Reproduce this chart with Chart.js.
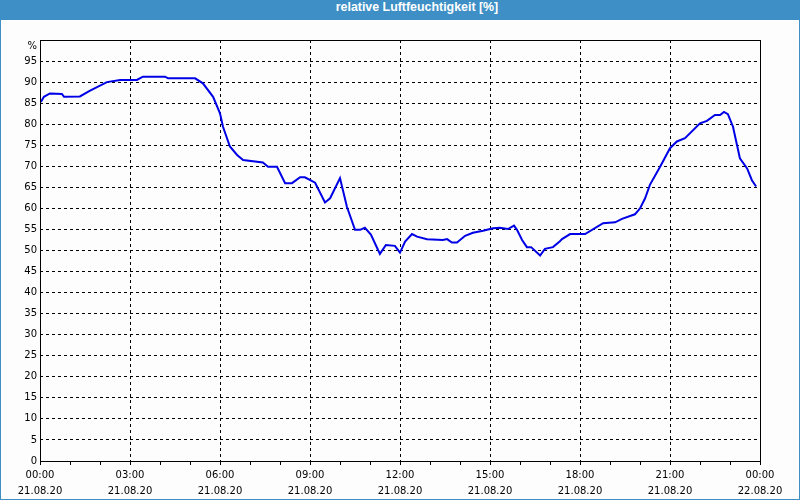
<!DOCTYPE html>
<html>
<head>
<meta charset="utf-8">
<script src="https://cdn.jsdelivr.net/npm/chart.js@4/dist/chart.umd.min.js"></script>
<style>
    body { margin: 0; }
    #frame { position: relative; width: 800px; height: 500px; background: #3d8fc6; }
    #title { position: absolute; left: 34px; top: 0; width: 766px; height: 20px; line-height: 20px;
             text-align: center; color: #fff; font: bold 12.4px "Liberation Sans", sans-serif; }
    #plot { position: absolute; left: 1px; top: 20px; width: 798px; height: 479px; background: #fcfdfc; }
</style>
</head>
<body>
<div id="frame">
    <div id="title">relative Luftfeuchtigkeit [%]</div>
    <div id="plot"><canvas id="humidityChart" width="798" height="479"></canvas></div>
</div>
<script>
// time in hours since 21.08.20 00:00
const hours = [0.03, 0.13, 0.33, 0.73, 0.8, 1.33, 1.67, 2.23, 2.67, 3.23, 3.43, 4.17, 4.27, 5.17, 5.43, 5.77,
    6.0, 6.1, 6.33, 6.57, 6.77, 7.43, 7.6, 7.9, 8.17, 8.4, 8.67, 8.83, 9.17, 9.5, 9.67, 10.0, 10.23, 10.5,
    10.67, 10.83, 11.03, 11.33, 11.53, 11.83, 12.0, 12.17, 12.4, 12.57, 12.9, 13.43, 13.57, 13.73, 13.9,
    14.17, 14.43, 14.77, 15.1, 15.33, 15.6, 15.8, 15.9, 16.07, 16.23, 16.37, 16.67, 16.83, 17.1, 17.33,
    17.4, 17.67, 18.17, 18.77, 19.17, 19.4, 19.83, 20.0, 20.17, 20.33, 20.67, 21.0, 21.23, 21.5, 22.0,
    22.23, 22.5, 22.67, 22.8, 22.93, 23.1, 23.33, 23.57, 23.73, 23.87];
const humidity = [85.3, 86.5, 87.3, 87.2, 86.5, 86.6, 88.0, 90.0, 90.5, 90.5, 91.3, 91.3, 90.9, 90.9, 89.7, 86.5,
    82.6, 79.4, 74.7, 72.7, 71.5, 70.9, 69.9, 69.9, 66.0, 66.0, 67.4, 67.4, 66.1, 61.4, 62.4, 67.2, 60.4, 54.9,
    54.9, 55.4, 53.8, 49.2, 51.3, 51.1, 49.5, 52.1, 53.9, 53.3, 52.7, 52.5, 52.7, 51.9, 51.9,
    53.5, 54.2, 54.7, 55.3, 55.4, 55.1, 55.9, 54.9, 52.5, 50.8, 50.8, 48.8, 50.4, 50.8, 52.2,
    52.7, 53.9, 53.9, 56.5, 56.7, 57.5, 58.6, 60.0, 62.4, 65.6, 69.9, 74.3, 75.9, 76.7, 80.2,
    80.8, 82.2, 82.2, 82.9, 82.4, 79.4, 71.9, 69.5, 66.7, 65.2];

const timeLabels = ['00:00', '03:00', '06:00', '09:00', '12:00', '15:00', '18:00', '21:00', '00:00'];
const dateLabels = ['21.08.20', '21.08.20', '21.08.20', '21.08.20', '21.08.20', '21.08.20', '21.08.20', '21.08.20', '22.08.20'];

const points = hours.map((h, i) => ({ x: h, y: humidity[i] }));

// black frame round the plot area
const frameBox = {
    id: 'frameBox',
    afterDraw(chart) {
        const { ctx, chartArea } = chart;
        ctx.save();
        ctx.strokeStyle = '#000';
        ctx.lineWidth = 1;
        ctx.setLineDash([]);
        ctx.strokeRect(Math.round(chartArea.left) + 0.5, Math.round(chartArea.top) + 0.5,
            Math.round(chartArea.right - chartArea.left), Math.round(chartArea.bottom - chartArea.top));
        ctx.restore();
    }
};

const font = { family: '"DejaVu Sans", sans-serif', size: 10 };

new Chart(document.getElementById('humidityChart').getContext('2d'), {
    type: 'line',
    data: {
        datasets: [{
            data: points,
            borderColor: 'rgb(0, 0, 230)',
            borderWidth: 2,
            pointRadius: 0,
            tension: 0,
        }],
    },
    options: {
        responsive: false,
        animation: false,
        devicePixelRatio: 1,
        layout: { padding: { top: 20, right: 39, left: 0, bottom: 0 } },
        plugins: { legend: { display: false }, tooltip: { enabled: false } },
        scales: {
            x: {
                type: 'linear',
                min: 0,
                max: 24,
                afterFit: (scale) => { scale.height = 38; },
                ticks: {
                    stepSize: 1,
                    autoSkip: false,
                    maxRotation: 0,
                    padding: 2,
                    color: '#000',
                    font: { ...font, lineHeight: 1.6 },
                    callback: (v) => v % 3 === 0 ? [timeLabels[v / 3], dateLabels[v / 3]] : '',
                },
                grid: {
                    color: (c) => c.tick && c.tick.value % 3 === 0 ? '#000' : 'rgba(0,0,0,0)',
                    tickColor: '#000',
                    tickLength: 4,
                    tickBorderDash: [],
                },
                border: { display: false, dash: [3, 3] },
            },
            y: {
                min: 0,
                max: 100,
                afterFit: (scale) => { scale.width = 39; },
                ticks: {
                    stepSize: 5,
                    autoSkip: false,
                    padding: 3,
                    color: '#000',
                    font: font,
                    // the unit sits just under the top line
                    callback: (v) => v === 100 ? ['', '%'] : v,
                },
                grid: { color: '#000', drawTicks: false },
                border: { display: false, dash: [3, 3] },
            },
        },
    },
    plugins: [frameBox],
});
</script>
</body>
</html>
